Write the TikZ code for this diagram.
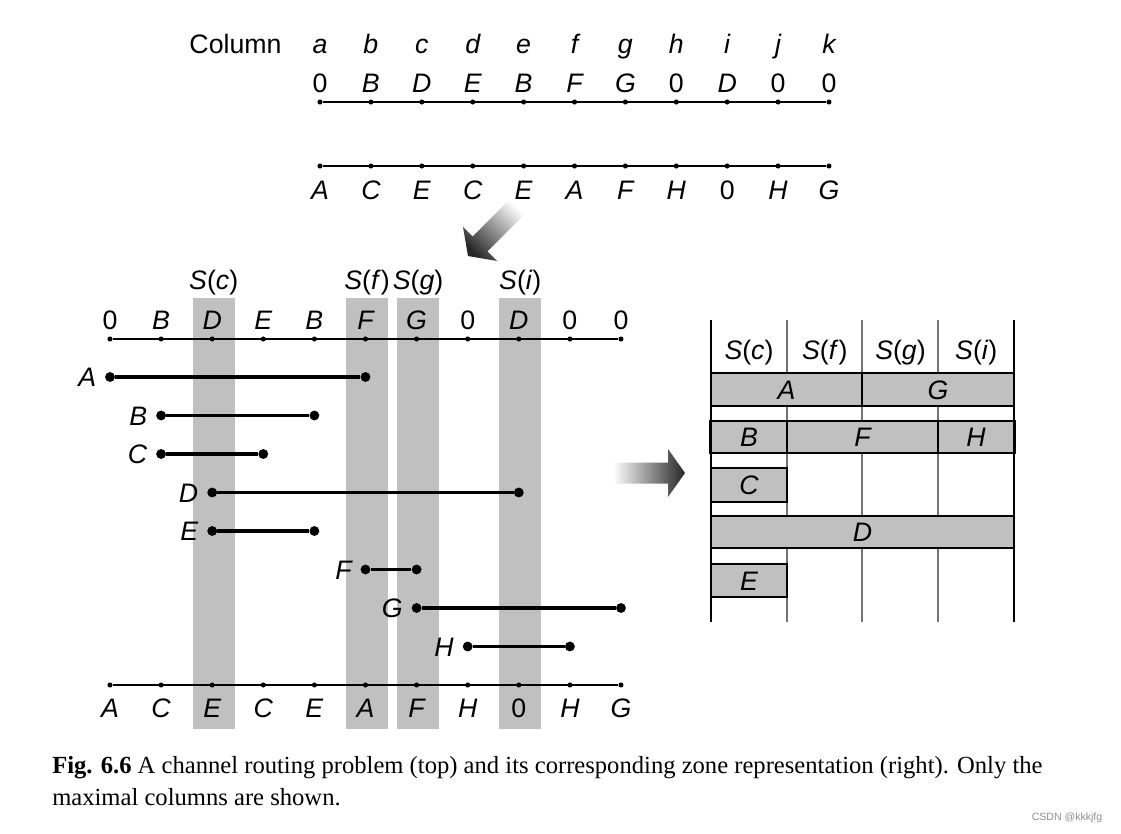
\documentclass[tikz,border=0pt]{standalone}
\usepackage{fontspec}
\setmainfont{Liberation Serif}
\setsansfont{Liberation Sans}
\newfontfamily\capfont{Liberation Serif}
\usetikzlibrary{positioning}
\definecolor{bandgray}{HTML}{C0C0C0}
\newcommand{\lblfont}{\sffamily\fontsize{19}{23}\selectfont}
\newcommand{\zs}[1]{\textit{S}(\textit{#1})}

\begin{document}
\begin{tikzpicture}[x=0.025cm, y=-0.025cm,
  lbl/.style={font=\lblfont, inner sep=0pt, text height=13.6pt, text depth=0pt},
  pin/.style={circle, fill, inner sep=0pt, minimum size=3.6pt},
  term/.style={circle, fill, inner sep=0pt, minimum size=7pt},
  chan/.style={line width=1.1pt},
  net/.style={line width=2.2pt},
  band/.style={fill=bandgray},
  zone/.style={draw, fill=bandgray, line width=2pt},
  rail/.style={line width=2.1pt},
  grid/.style={line width=0.8pt, black!55}]

  \useasboundingbox (0,0) rectangle (1121,834);

  % maximal columns
  \foreach \i/\s in {2/c, 5/f, 6/g, 8/i} {
    \fill[band] (90.5+51.1*\i,298) rectangle (132.5+51.1*\i,729);
    \node[lbl] (s-\s) at (111.5+51.1*\i,280) {\zs{\s}};
  }

  % channel at the top and its copy on the left
  \node[lbl] (colname) at (235.5,44) {Column};
  \foreach \c/\t/\b [count=\i from 0] in {a/{\upshape 0}/A, b/B/C, c/D/E, d/E/C,
      e/B/E, f/F/A, g/G/F, h/{\upshape 0}/H, i/D/{\upshape 0}, j/{\upshape 0}/H, k/{\upshape 0}/G} {
    \node[lbl] (col-\c) at (320+50.9*\i,44) {\itshape\c};
    \node[lbl] (ut-\c) at (320+50.9*\i,83) {\itshape\t};
    \node[pin] (up-\c) at (320+50.9*\i,102) {};
    \node[pin] (lp-\c) at (320+50.9*\i,166) {};
    \node[lbl] (lt-\c) at (320+50.9*\i,190) {\itshape\b};
    \node[lbl] (zt-\c) at (110+51.1*\i,320) {\itshape\t};
    \node[pin] (zu-\c) at (110+51.1*\i,339) {};
    \node[pin] (zl-\c) at (110+51.1*\i,685) {};
    \node[lbl] (zb-\c) at (110+51.1*\i,708) {\itshape\b};
  }
  \draw[chan] (up-a) -- (up-k);
  \draw[chan] (lp-a) -- (lp-k);
  \draw[chan] (zu-a) -- (zu-k);
  \draw[chan] (zl-a) -- (zl-k);

  % nets
  \foreach \n/\l/\r [count=\k from 0] in {A/0/5, B/1/4, C/1/3, D/2/8, E/2/4, F/5/6, G/6/10, H/7/9} {
    \node[term] (\n-l) at (110+51.1*\l,377+38.5*\k) {};
    \node[term] (\n-r) at (110+51.1*\r,377+38.5*\k) {};
    \draw[net] (\n-l) -- (\n-r);
    \node[lbl, left=6pt of \n-l] (\n-name) {\itshape\n};
  }

  % arrows
  \shade[top color=white, bottom color=black!85, shading angle=-45]
    (511.5,197.7) -- (472.6,236.6) -- (463,227) -- (468,256) -- (497,261)
    -- (487.4,251.4) -- (526.3,212.5) -- cycle;
  \shade[left color=white, right color=black!85]
    (613,462.5) -- (668,462.5) -- (668,449) -- (685,473) -- (668,497)
    -- (668,483.5) -- (613,483.5) -- cycle;

  % zone representation
  \foreach \s [count=\i from 0] in {c,f,g,i}
    \node[lbl] (h-\s) at (749+75.75*\i,350) {\zs{\s}};
  \foreach \x in {787,862,938}
    \draw[grid] (\x,320) -- (\x,622);
  \draw[zone] (711,373) rectangle (862,406);
  \draw[zone] (862,373) rectangle (1014,406);
  \draw[zone] (710,421) rectangle (787,453);
  \draw[zone] (787,421) rectangle (938,453);
  \draw[zone] (938,421) rectangle (1015,453);
  \draw[zone] (711,468) rectangle (787,502);
  \draw[zone] (711,516) rectangle (1014,548);
  \draw[zone] (711,564) rectangle (787,597);
  \node[lbl] (zA) at (786.5,389.5) {\itshape A};
  \node[lbl] (zG) at (938,389.5) {\itshape G};
  \node[lbl] (zB) at (749,437) {\itshape B};
  \node[lbl] (zF) at (862.5,437) {\itshape F};
  \node[lbl] (zH) at (976,437) {\itshape H};
  \node[lbl] (zC) at (749,485) {\itshape C};
  \node[lbl] (zD) at (862.5,532) {\itshape D};
  \node[lbl] (zE) at (749,580.5) {\itshape E};
  \draw[rail] (711,320) -- (711,622);
  \draw[rail] (1014,320) -- (1014,622);

  % caption
  \node[anchor=base west, inner sep=0pt, align=left, font=\capfont\fontsize{17.5}{22.7}\selectfont]
    (caption) at (52,805) {{\bfseries Fig. 6.6} A channel routing problem (top) and its corresponding zone representation (right). Only the\\
    maximal columns are shown.};
  \node[font=\sffamily\fontsize{7.5}{9}\selectfont, text=black!45, inner sep=0pt] (mark) at (1067,818) {CSDN @kkkjfg};
\end{tikzpicture}
\end{document}
